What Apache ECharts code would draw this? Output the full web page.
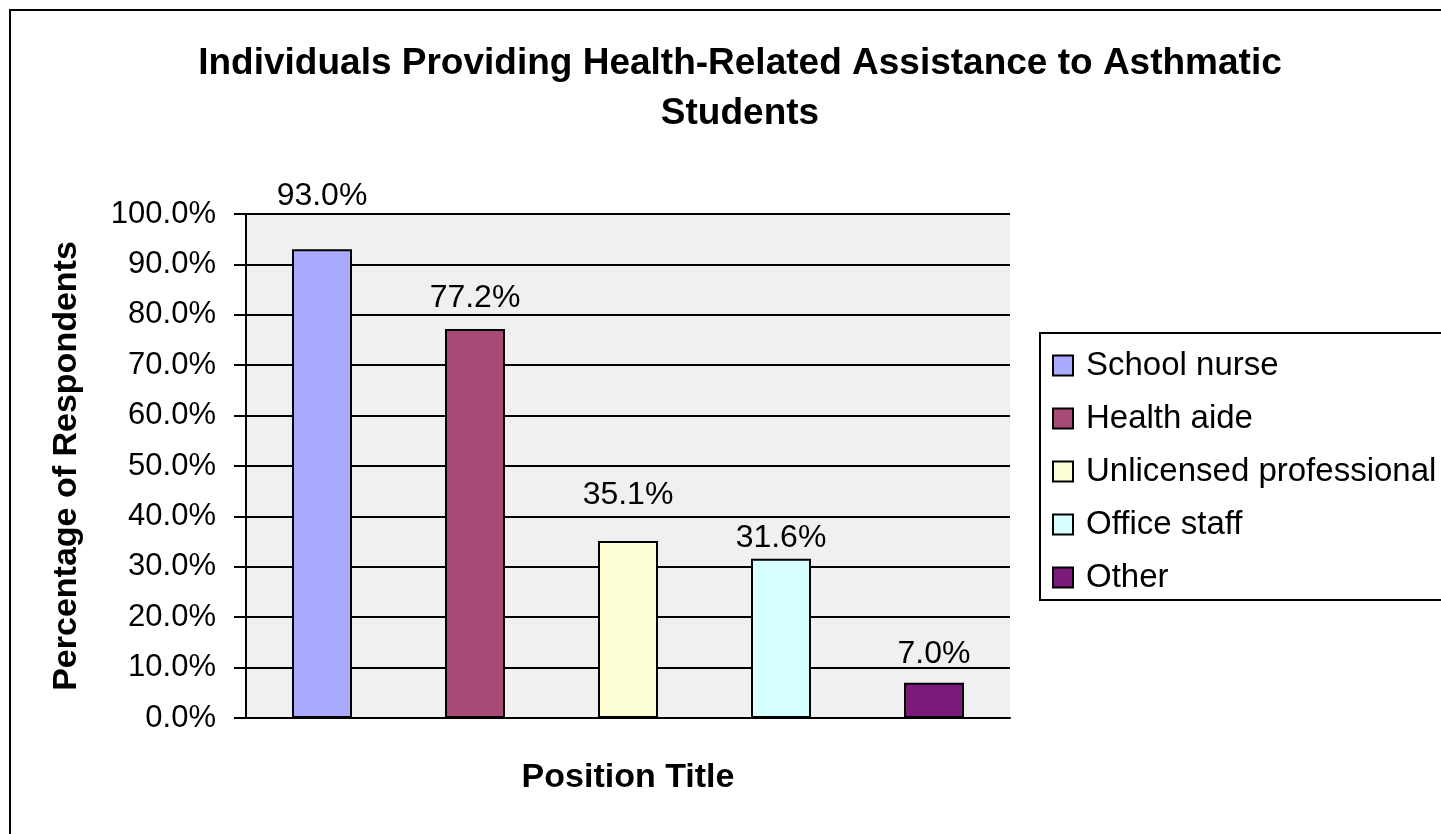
<!DOCTYPE html>
<html>
<head>
<meta charset="utf-8">
<script src="https://cdn.jsdelivr.net/npm/echarts@6/dist/echarts.min.js"></script>
<style>
html,body{margin:0;padding:0;background:#fff;}
#chart{width:1441px;height:834px;}
</style>
</head>
<body>
<div id="chart"></div>
<script>
const titleText = 'Individuals Providing Health-Related Assistance to Asthmatic\nStudents';
const categories = [''];
const seriesNames = ['School nurse', 'Health aide', 'Unlicensed professional', 'Office staff', 'Other'];
const seriesValues = [93.0, 77.2, 35.1, 31.6, 7.0];
const seriesColors = ['#aaaaff', '#a84a76', '#ffffd6', '#d6ffff', '#7b1a79'];
const labelDistances = [37, 15, 30, 5, 13];
const yTickLabels = ['0.0%', '10.0%', '20.0%', '30.0%', '40.0%', '50.0%', '60.0%', '70.0%', '80.0%', '90.0%', '100.0%'];
const yAxisTitle = 'Percentage of Respondents';
const xAxisTitle = 'Position Title';

const FONT = '"Liberation Sans", Arial, sans-serif';
const chart = echarts.init(document.getElementById('chart'), null, {renderer: 'canvas'});

const series = seriesNames.map((name, i) => ({
  name: name,
  type: 'bar',
  data: [seriesValues[i]],
  barWidth: 60,
  barGap: '155%',
  itemStyle: {color: seriesColors[i], borderColor: '#000', borderWidth: 2},
  label: {
    show: true,
    position: 'top',
    distance: labelDistances[i],
    color: '#000',
    fontFamily: FONT,
    fontSize: 32,
    formatter: p => p.value.toFixed(1) + '%'
  },
  emphasis: {disabled: true},
  animation: false
}));

chart.setOption({
  animation: false,
  backgroundColor: '#fff',
  textStyle: {fontFamily: FONT},
  title: {
    text: titleText,
    left: 735,
    top: 34,
    textAlign: 'center',
    textStyle: {fontFamily: FONT, fontWeight: 'bold', fontSize: 37, lineHeight: 50, color: '#000'}
  },
  graphic: [{
    type: 'rect',
    shape: {x: 10, y: 10, width: 1500, height: 900},
    style: {fill: 'none', stroke: '#000', lineWidth: 2},
    silent: true,
    z: 100
  }],
  legend: {
    orient: 'vertical',
    left: 1040,
    top: 333,
    padding: [16, 20, 6, 12],
    itemGap: 20,
    itemWidth: 20,
    itemHeight: 20,
    icon: 'rect',
    borderColor: '#000',
    borderWidth: 2,
    backgroundColor: '#fff',
    textStyle: {fontFamily: FONT, fontSize: 33, color: '#000', padding: [0, 0, 0, 8]},
    data: seriesNames
  },
  grid: {
    left: 246, right: 431, top: 214, bottom: 116,
    show: true, backgroundColor: '#f0f0f0', borderWidth: 0,
    containLabel: false
  },
  xAxis: {
    type: 'category',
    data: categories,
    name: xAxisTitle,
    nameLocation: 'middle',
    nameGap: 43,
    nameTextStyle: {fontFamily: FONT, fontWeight: 'bold', fontSize: 34, color: '#000'},
    axisLine: {show: true, lineStyle: {color: '#000', width: 2}},
    axisTick: {show: false},
    axisLabel: {show: false},
    splitLine: {show: false}
  },
  yAxis: {
    type: 'value',
    min: 0,
    max: 100,
    interval: 10,
    name: yAxisTitle,
    nameLocation: 'middle',
    nameRotate: 90,
    nameGap: 162,
    nameTextStyle: {fontFamily: FONT, fontWeight: 'bold', fontSize: 34, color: '#000'},
    axisLine: {show: true, lineStyle: {color: '#000', width: 2}},
    axisTick: {show: true, inside: false, length: 12, lineStyle: {color: '#000', width: 2}},
    axisLabel: {
      margin: 30,
      fontFamily: FONT,
      fontSize: 31,
      color: '#000',
      formatter: (v) => yTickLabels[Math.round(v / 10)]
    },
    splitLine: {show: true, lineStyle: {color: '#000', width: 2}}
  },
  series: series
});
</script>
</body>
</html>
